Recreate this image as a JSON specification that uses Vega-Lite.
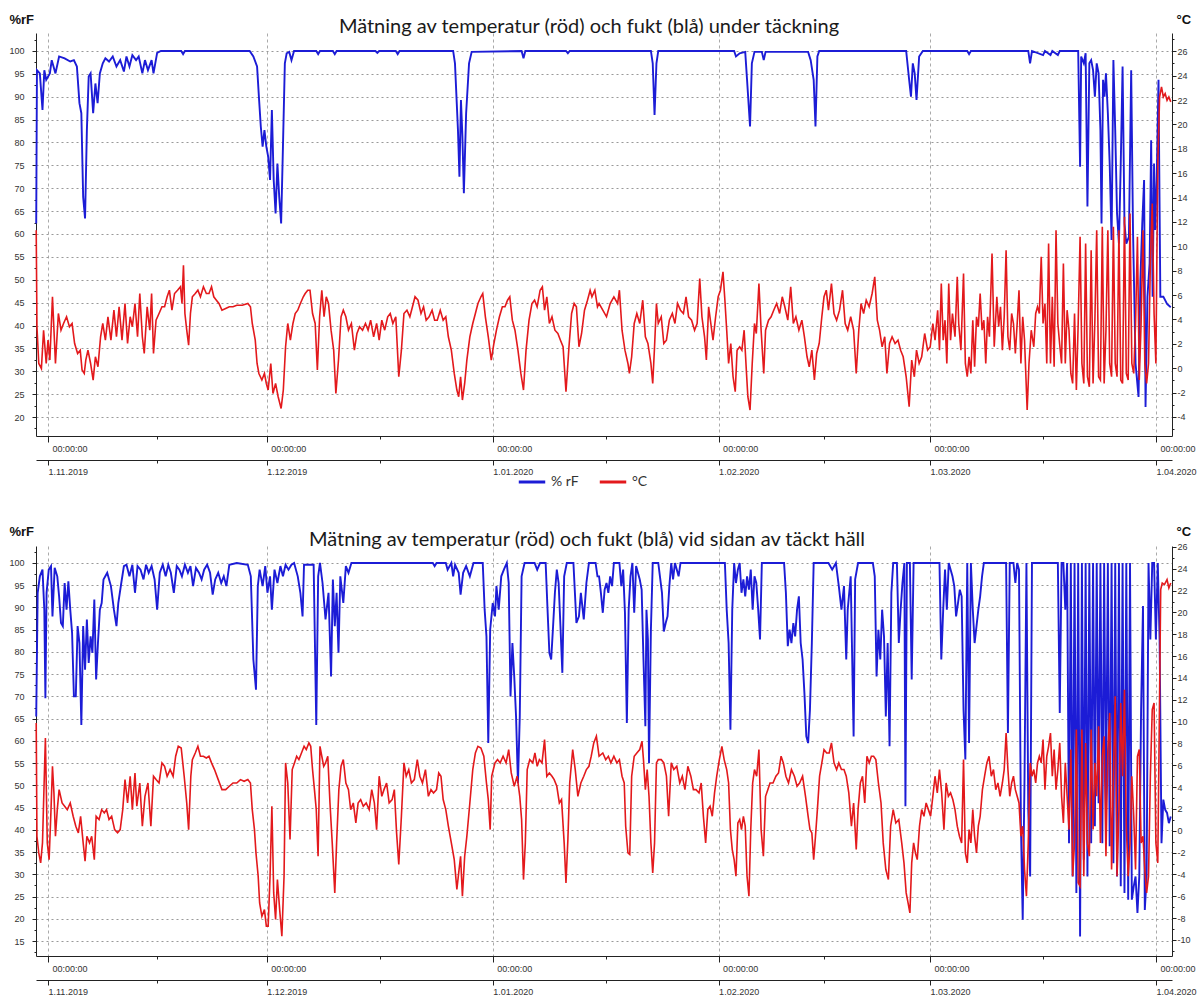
{
"$schema": "https://vega.github.io/schema/vega-lite/v6.json",
"background": "white",
"padding": {"left": 8, "top": 13, "right": 5, "bottom": 2},
"config": {
  "view": {"stroke": null},
  "axis": {"labelFont": "Liberation Sans Narrow, Liberation Sans", "labelFontSize": 9, "labelColor": "#333", "domainColor": "#222", "tickColor": "#222", "titleFont": "Liberation Sans Narrow, Liberation Sans", "titleFontSize": 13, "titleFontWeight": "bold", "titleColor": "#111", "labelFlush": false, "labelOverlap": false, "labelBound": false}
},
"spacing": 36,
"resolve": {"scale": {"color": "independent"}},
"datasets": {
"top_rf": [{"day":-1.62,"rf":62.3},{"day":-1.52,"rf":95.8},{"day":-1.12,"rf":95.1},{"day":-0.76,"rf":87.1},{"day":-0.51,"rf":95.8},{"day":-0.25,"rf":93.7},{"day":0.25,"rf":95.1},{"day":0.51,"rf":98},{"day":1.02,"rf":95.1},{"day":1.52,"rf":98.8},{"day":2.28,"rf":98.4},{"day":3.05,"rf":97.7},{"day":3.55,"rf":98},{"day":3.96,"rf":96.6},{"day":4.31,"rf":88.6},{"day":4.57,"rf":86.4},{"day":4.82,"rf":68.1},{"day":5.08,"rf":63.4},{"day":5.33,"rf":82.7},{"day":5.58,"rf":94.4},{"day":5.84,"rf":95.1},{"day":6.19,"rf":86.4},{"day":6.5,"rf":92.9},{"day":6.8,"rf":88.6},{"day":7.11,"rf":95.1},{"day":7.51,"rf":97.3},{"day":7.87,"rf":98.4},{"day":8.37,"rf":97.7},{"day":8.88,"rf":98.8},{"day":9.39,"rf":96.6},{"day":9.9,"rf":98},{"day":10.41,"rf":95.5},{"day":10.76,"rf":98.8},{"day":11.17,"rf":96.6},{"day":11.57,"rf":99.1},{"day":12.08,"rf":98},{"day":12.44,"rf":98.8},{"day":12.94,"rf":95.1},{"day":13.3,"rf":98},{"day":13.71,"rf":95.8},{"day":14.21,"rf":98},{"day":14.47,"rf":95.1},{"day":14.97,"rf":99.6},{"day":15.48,"rf":100},{"day":18.27,"rf":100},{"day":18.53,"rf":99.3},{"day":18.78,"rf":100},{"day":27.66,"rf":100},{"day":28.17,"rf":98.8},{"day":28.68,"rf":96.6},{"day":28.93,"rf":90},{"day":29.19,"rf":83.5},{"day":29.44,"rf":79.1},{"day":29.69,"rf":82.7},{"day":29.95,"rf":79.1},{"day":30.2,"rf":76.9},{"day":30.46,"rf":71.8},{"day":30.71,"rf":87.1},{"day":30.96,"rf":71.8},{"day":31.22,"rf":64.5},{"day":31.47,"rf":75.4},{"day":31.72,"rf":68.1},{"day":31.98,"rf":62.3},{"day":32.23,"rf":79.1},{"day":32.49,"rf":97.3},{"day":32.74,"rf":99.5},{"day":33.09,"rf":99.8},{"day":33.4,"rf":98},{"day":33.75,"rf":100},{"day":36.8,"rf":100},{"day":37.06,"rf":99.3},{"day":37.31,"rf":100},{"day":39.08,"rf":100},{"day":39.34,"rf":99.3},{"day":39.59,"rf":100},{"day":44.92,"rf":100},{"day":45.18,"rf":99.6},{"day":45.43,"rf":100},{"day":47.71,"rf":100},{"day":47.97,"rf":99.3},{"day":48.22,"rf":100},{"day":55.58,"rf":100},{"day":55.83,"rf":97.3},{"day":56.24,"rf":82.7},{"day":56.44,"rf":72.5},{"day":56.65,"rf":89.3},{"day":56.85,"rf":81.3},{"day":57.05,"rf":68.9},{"day":57.36,"rf":86.4},{"day":57.76,"rf":97.3},{"day":58.12,"rf":99.8},{"day":64.97,"rf":100},{"day":65.23,"rf":98.4},{"day":65.48,"rf":100},{"day":71.06,"rf":100},{"day":71.32,"rf":99.5},{"day":71.57,"rf":100},{"day":82.71,"rf":100},{"day":82.96,"rf":97.3},{"day":83.21,"rf":86},{"day":83.47,"rf":97.3},{"day":83.72,"rf":100},{"day":94.13,"rf":100},{"day":94.38,"rf":98.8},{"day":94.89,"rf":99.5},{"day":95.65,"rf":99.8},{"day":95.9,"rf":93.7},{"day":96.31,"rf":83.5},{"day":96.56,"rf":97.3},{"day":96.92,"rf":99.8},{"day":97.93,"rf":99.8},{"day":98.19,"rf":98},{"day":98.44,"rf":99.8},{"day":104.28,"rf":99.8},{"day":104.63,"rf":98},{"day":105.04,"rf":93.7},{"day":105.29,"rf":83.5},{"day":105.55,"rf":98.8},{"day":105.8,"rf":100},{"day":117.73,"rf":100},{"day":118.14,"rf":93.7},{"day":118.39,"rf":90},{"day":118.64,"rf":97.3},{"day":118.9,"rf":95.1},{"day":119.15,"rf":89.3},{"day":119.51,"rf":98.8},{"day":120.02,"rf":100},{"day":126.11,"rf":100},{"day":126.36,"rf":99.3},{"day":126.61,"rf":100},{"day":134.48,"rf":100},{"day":134.73,"rf":97.3},{"day":134.99,"rf":100},{"day":136.51,"rf":99.1},{"day":136.77,"rf":100},{"day":137.53,"rf":99.1},{"day":137.78,"rf":100},{"day":138.54,"rf":99.1},{"day":138.8,"rf":100},{"day":141.33,"rf":100},{"day":141.59,"rf":74.7},{"day":141.74,"rf":98.8},{"day":142.1,"rf":97.3},{"day":142.35,"rf":99.5},{"day":142.6,"rf":66},{"day":142.86,"rf":97.3},{"day":143.11,"rf":98},{"day":143.37,"rf":95.8},{"day":143.62,"rf":90},{"day":143.87,"rf":97.3},{"day":144.13,"rf":95.1},{"day":144.38,"rf":82.7},{"day":144.53,"rf":62.3},{"day":144.74,"rf":93.7},{"day":144.94,"rf":90},{"day":145.14,"rf":95.1},{"day":145.4,"rf":86.4},{"day":145.65,"rf":75.4},{"day":145.91,"rf":58.7},{"day":146.16,"rf":98},{"day":146.41,"rf":82.7},{"day":146.66,"rf":64.5},{"day":146.92,"rf":57.9},{"day":147.17,"rf":75.4},{"day":147.42,"rf":96.6},{"day":147.68,"rf":62.3},{"day":147.93,"rf":57.9},{"day":148.29,"rf":59.4},{"day":148.6,"rf":95.8},{"day":148.85,"rf":60.9},{"day":149.2,"rf":31.7},{"day":149.61,"rf":24.4},{"day":149.86,"rf":49.9},{"day":150.12,"rf":62.3},{"day":150.37,"rf":71.8},{"day":150.57,"rf":22.2},{"day":150.83,"rf":46.3},{"day":151.13,"rf":53.6},{"day":151.34,"rf":80.5},{"day":151.54,"rf":46.3},{"day":151.74,"rf":75.4},{"day":151.89,"rf":60.9},{"day":152.1,"rf":71.8},{"day":152.35,"rf":93.7},{"day":152.6,"rf":46.3},{"day":153.01,"rf":46.3},{"day":153.52,"rf":44.7},{"day":154.03,"rf":44}],
"top_t": [{"day":-1.62,"temp":11.32},{"day":-1.52,"temp":3.4},{"day":-1.27,"temp":0.39},{"day":-0.91,"temp":-0.02},{"day":-0.61,"temp":3.12},{"day":-0.25,"temp":0.39},{"day":0,"temp":2.3},{"day":0.25,"temp":0.67},{"day":0.61,"temp":5.86},{"day":1.02,"temp":0.39},{"day":1.42,"temp":4.49},{"day":1.78,"temp":3.12},{"day":2.13,"temp":3.67},{"day":2.54,"temp":4.22},{"day":2.94,"temp":3.4},{"day":3.3,"temp":3.67},{"day":3.65,"temp":2.03},{"day":4.06,"temp":1.21},{"day":4.42,"temp":1.48},{"day":4.67,"temp":-0.15},{"day":4.97,"temp":-0.43},{"day":5.18,"temp":0.67},{"day":5.48,"temp":1.48},{"day":5.84,"temp":0.39},{"day":6.19,"temp":-0.97},{"day":6.5,"temp":0.94},{"day":6.85,"temp":0.12},{"day":7.21,"temp":2.58},{"day":7.51,"temp":3.67},{"day":7.87,"temp":2.3},{"day":8.22,"temp":4.22},{"day":8.63,"temp":2.3},{"day":9.04,"temp":4.76},{"day":9.39,"temp":2.58},{"day":9.75,"temp":5.04},{"day":10.15,"temp":2.3},{"day":10.56,"temp":5.31},{"day":10.91,"temp":2.03},{"day":11.27,"temp":4.22},{"day":11.57,"temp":3.4},{"day":11.93,"temp":5.31},{"day":12.28,"temp":2.58},{"day":12.59,"temp":6.13},{"day":12.94,"temp":2.58},{"day":13.2,"temp":1.21},{"day":13.6,"temp":5.04},{"day":13.96,"temp":3.12},{"day":14.21,"temp":6.13},{"day":14.47,"temp":1.21},{"day":14.82,"temp":3.94},{"day":15.23,"temp":4.49},{"day":15.63,"temp":5.04},{"day":15.99,"temp":5.04},{"day":16.34,"temp":5.86},{"day":16.65,"temp":6.4},{"day":17.0,"temp":4.76},{"day":17.36,"temp":6.13},{"day":17.77,"temp":6.4},{"day":18.17,"temp":6.68},{"day":18.38,"temp":5.31},{"day":18.58,"temp":8.45},{"day":18.78,"temp":4.49},{"day":19.03,"temp":3.12},{"day":19.29,"temp":1.89},{"day":19.54,"temp":4.49},{"day":19.8,"temp":5.86},{"day":20.2,"temp":6.13},{"day":20.56,"temp":6.4},{"day":20.91,"temp":5.86},{"day":21.32,"temp":6.68},{"day":21.72,"temp":6.13},{"day":22.08,"temp":6.13},{"day":22.43,"temp":6.68},{"day":22.74,"temp":5.86},{"day":23.1,"temp":5.58},{"day":23.45,"temp":5.31},{"day":23.86,"temp":4.76},{"day":24.37,"temp":4.9},{"day":24.87,"temp":5.04},{"day":25.38,"temp":5.04},{"day":25.89,"temp":5.17},{"day":26.65,"temp":5.17},{"day":27.41,"temp":5.31},{"day":27.77,"temp":5.04},{"day":28.02,"temp":3.67},{"day":28.43,"temp":2.3},{"day":28.68,"temp":0.39},{"day":28.93,"temp":-0.43},{"day":29.34,"temp":-0.97},{"day":29.69,"temp":-0.43},{"day":29.95,"temp":-1.25},{"day":30.2,"temp":-1.79},{"day":30.56,"temp":0.39},{"day":30.86,"temp":-2.07},{"day":31.22,"temp":-1.25},{"day":31.57,"temp":-2.34},{"day":31.98,"temp":-3.3},{"day":32.28,"temp":-1.79},{"day":32.59,"temp":1.76},{"day":32.89,"temp":3.67},{"day":33.25,"temp":2.3},{"day":33.6,"temp":3.67},{"day":33.91,"temp":4.49},{"day":34.26,"temp":4.76},{"day":34.62,"temp":5.31},{"day":35.02,"temp":5.86},{"day":35.28,"temp":6.13},{"day":35.63,"temp":6.4},{"day":35.94,"temp":6.4},{"day":36.29,"temp":4.49},{"day":36.65,"temp":3.67},{"day":36.95,"temp":-0.15},{"day":37.26,"temp":4.22},{"day":37.56,"temp":6.4},{"day":37.87,"temp":4.22},{"day":38.17,"temp":5.86},{"day":38.48,"temp":5.31},{"day":38.83,"temp":3.12},{"day":39.19,"temp":1.48},{"day":39.49,"temp":-2.07},{"day":39.85,"temp":0.67},{"day":40.2,"temp":4.22},{"day":40.51,"temp":4.76},{"day":40.86,"temp":4.22},{"day":41.22,"temp":3.12},{"day":41.62,"temp":3.67},{"day":42.03,"temp":1.48},{"day":42.38,"temp":2.85},{"day":42.74,"temp":3.4},{"day":43.15,"temp":3.12},{"day":43.55,"temp":3.67},{"day":43.91,"temp":3.12},{"day":44.26,"temp":3.94},{"day":44.67,"temp":2.58},{"day":45.08,"temp":3.67},{"day":45.43,"temp":2.3},{"day":45.79,"temp":3.94},{"day":46.19,"temp":3.12},{"day":46.6,"temp":4.22},{"day":46.95,"temp":4.49},{"day":47.31,"temp":3.67},{"day":47.71,"temp":4.22},{"day":48.12,"temp":-0.7},{"day":48.48,"temp":1.48},{"day":48.83,"temp":4.49},{"day":49.24,"temp":4.76},{"day":49.64,"temp":4.22},{"day":50,"temp":5.04},{"day":50.35,"temp":5.86},{"day":50.76,"temp":5.58},{"day":51.17,"temp":4.49},{"day":51.52,"temp":5.04},{"day":51.88,"temp":3.94},{"day":52.28,"temp":4.22},{"day":52.69,"temp":4.76},{"day":53.04,"temp":3.94},{"day":53.4,"temp":3.94},{"day":53.81,"temp":4.76},{"day":54.21,"temp":3.94},{"day":54.57,"temp":4.22},{"day":54.92,"temp":2.58},{"day":55.33,"temp":1.48},{"day":55.73,"temp":-0.43},{"day":56.09,"temp":-1.79},{"day":56.34,"temp":-2.34},{"day":56.6,"temp":-0.7},{"day":56.85,"temp":-2.61},{"day":57.16,"temp":-1.25},{"day":57.46,"temp":0.67},{"day":57.87,"temp":2.58},{"day":58.27,"temp":3.67},{"day":58.63,"temp":4.49},{"day":58.98,"temp":5.31},{"day":59.39,"temp":5.86},{"day":59.64,"temp":6.13},{"day":60.0,"temp":4.22},{"day":60.4,"temp":2.58},{"day":60.81,"temp":0.67},{"day":61.17,"temp":2.03},{"day":61.52,"temp":3.12},{"day":61.93,"temp":4.22},{"day":62.33,"temp":5.04},{"day":62.69,"temp":5.04},{"day":63.04,"temp":5.58},{"day":63.35,"temp":5.86},{"day":63.7,"temp":3.94},{"day":64.06,"temp":3.12},{"day":64.47,"temp":1.48},{"day":64.87,"temp":-0.43},{"day":65.23,"temp":-1.79},{"day":65.58,"temp":1.48},{"day":65.99,"temp":3.94},{"day":66.39,"temp":5.31},{"day":66.75,"temp":5.58},{"day":67.1,"temp":5.04},{"day":67.51,"temp":6.4},{"day":67.82,"temp":6.68},{"day":68.12,"temp":4.76},{"day":68.43,"temp":5.86},{"day":68.78,"temp":3.67},{"day":69.14,"temp":4.22},{"day":69.54,"temp":3.12},{"day":69.95,"temp":2.85},{"day":70.3,"temp":2.3},{"day":70.66,"temp":1.76},{"day":71.06,"temp":-1.93},{"day":71.47,"temp":1.76},{"day":71.83,"temp":4.49},{"day":72.18,"temp":5.31},{"day":72.49,"temp":5.04},{"day":72.84,"temp":1.76},{"day":73.2,"temp":2.85},{"day":73.6,"temp":4.76},{"day":74.01,"temp":5.58},{"day":74.37,"temp":6.4},{"day":74.62,"temp":5.86},{"day":75.02,"temp":6.4},{"day":75.38,"temp":5.04},{"day":75.6,"temp":5.31},{"day":76.11,"temp":4.76},{"day":76.62,"temp":4.22},{"day":77.12,"temp":5.31},{"day":77.63,"temp":5.86},{"day":78.14,"temp":5.31},{"day":78.39,"temp":6.4},{"day":78.75,"temp":3.12},{"day":79.15,"temp":1.48},{"day":79.56,"temp":0.39},{"day":79.76,"temp":-0.43},{"day":80.07,"temp":0.94},{"day":80.42,"temp":3.67},{"day":80.78,"temp":4.49},{"day":81.18,"temp":3.67},{"day":81.59,"temp":5.58},{"day":81.95,"temp":2.58},{"day":82.3,"temp":2.03},{"day":82.71,"temp":0.39},{"day":82.96,"temp":-1.25},{"day":83.21,"temp":1.76},{"day":83.47,"temp":5.31},{"day":83.72,"temp":3.67},{"day":84.13,"temp":4.22},{"day":84.48,"temp":2.03},{"day":84.84,"temp":2.3},{"day":85.24,"temp":3.94},{"day":85.65,"temp":4.49},{"day":86.01,"temp":3.67},{"day":86.36,"temp":5.31},{"day":86.77,"temp":4.76},{"day":87.17,"temp":4.49},{"day":87.53,"temp":5.86},{"day":87.88,"temp":4.22},{"day":88.29,"temp":3.94},{"day":88.7,"temp":3.12},{"day":89.05,"temp":3.67},{"day":89.41,"temp":7.36},{"day":89.71,"temp":4.22},{"day":90.07,"temp":2.58},{"day":90.32,"temp":0.67},{"day":90.63,"temp":5.04},{"day":90.93,"temp":3.67},{"day":91.23,"temp":2.3},{"day":91.59,"temp":4.22},{"day":91.94,"temp":5.86},{"day":92.25,"temp":6.4},{"day":92.6,"temp":7.91},{"day":92.86,"temp":5.58},{"day":93.11,"temp":3.12},{"day":93.37,"temp":0.39},{"day":93.67,"temp":2.03},{"day":93.98,"temp":-0.7},{"day":94.28,"temp":-1.93},{"day":94.53,"temp":1.48},{"day":94.89,"temp":1.76},{"day":95.19,"temp":1.48},{"day":95.5,"temp":3.12},{"day":95.8,"temp":-0.15},{"day":96.01,"temp":-2.34},{"day":96.31,"temp":-3.43},{"day":96.61,"temp":0.39},{"day":96.92,"temp":3.67},{"day":97.17,"temp":2.85},{"day":97.53,"temp":6.95},{"day":97.83,"temp":3.12},{"day":98.19,"temp":-0.43},{"day":98.44,"temp":3.12},{"day":98.85,"temp":3.94},{"day":99.2,"temp":4.22},{"day":99.56,"temp":4.76},{"day":99.96,"temp":5.31},{"day":100.37,"temp":4.49},{"day":100.73,"temp":5.86},{"day":101.08,"temp":5.04},{"day":101.49,"temp":3.94},{"day":101.89,"temp":6.68},{"day":102.25,"temp":3.67},{"day":102.6,"temp":4.22},{"day":103.01,"temp":3.12},{"day":103.42,"temp":3.94},{"day":103.77,"temp":2.58},{"day":104.13,"temp":0.94},{"day":104.43,"temp":0.12},{"day":104.79,"temp":1.48},{"day":105.14,"temp":-0.97},{"day":105.45,"temp":1.21},{"day":105.8,"temp":2.03},{"day":106.16,"temp":4.22},{"day":106.46,"temp":5.86},{"day":106.77,"temp":6.4},{"day":107.07,"temp":4.76},{"day":107.48,"temp":6.95},{"day":107.83,"temp":4.49},{"day":108.19,"temp":3.94},{"day":108.59,"temp":4.76},{"day":109.0,"temp":6.4},{"day":109.36,"temp":3.67},{"day":109.71,"temp":3.12},{"day":110.12,"temp":4.22},{"day":110.52,"temp":3.12},{"day":110.88,"temp":-0.43},{"day":111.23,"temp":3.12},{"day":111.54,"temp":5.31},{"day":111.89,"temp":4.49},{"day":112.25,"temp":5.58},{"day":112.65,"temp":5.04},{"day":113.06,"temp":6.13},{"day":113.42,"temp":7.5},{"day":113.77,"temp":3.94},{"day":114.08,"temp":3.12},{"day":114.43,"temp":1.76},{"day":114.79,"temp":2.58},{"day":115.09,"temp":-0.43},{"day":115.45,"temp":2.03},{"day":115.8,"temp":2.58},{"day":116.21,"temp":2.03},{"day":116.61,"temp":2.3},{"day":116.97,"temp":1.48},{"day":117.32,"temp":0.94},{"day":117.73,"temp":-0.7},{"day":118.14,"temp":-3.16},{"day":118.49,"temp":0.67},{"day":118.85,"temp":-0.7},{"day":119.15,"temp":1.48},{"day":119.51,"temp":0.39},{"day":119.86,"temp":0.94},{"day":120.27,"temp":2.85},{"day":120.67,"temp":1.48},{"day":121.03,"temp":1.76},{"day":121.39,"temp":3.67},{"day":121.69,"temp":2.3},{"day":122.05,"temp":4.76},{"day":122.3,"temp":1.48},{"day":122.55,"temp":6.95},{"day":122.81,"temp":2.3},{"day":123.06,"temp":3.94},{"day":123.31,"temp":0.39},{"day":123.57,"temp":6.95},{"day":123.82,"temp":2.3},{"day":124.08,"temp":4.49},{"day":124.43,"temp":2.58},{"day":124.74,"temp":7.5},{"day":124.94,"temp":3.67},{"day":125.24,"temp":1.48},{"day":125.6,"temp":7.77},{"day":125.85,"temp":0.39},{"day":126.11,"temp":-0.7},{"day":126.36,"temp":0.94},{"day":126.61,"temp":-0.43},{"day":126.87,"temp":3.94},{"day":127.12,"temp":0.12},{"day":127.38,"temp":4.22},{"day":127.63,"temp":3.4},{"day":127.88,"temp":6.13},{"day":128.14,"temp":3.12},{"day":128.39,"temp":3.94},{"day":128.65,"temp":0.39},{"day":128.9,"temp":4.22},{"day":129.15,"temp":2.58},{"day":129.51,"temp":9.41},{"day":129.81,"temp":1.76},{"day":130.17,"temp":5.86},{"day":130.42,"temp":3.4},{"day":130.67,"temp":5.04},{"day":130.93,"temp":1.48},{"day":131.18,"temp":4.22},{"day":131.44,"temp":9.68},{"day":131.69,"temp":2.58},{"day":131.94,"temp":1.48},{"day":132.2,"temp":4.49},{"day":132.45,"temp":3.67},{"day":132.71,"temp":1.21},{"day":132.96,"temp":3.67},{"day":133.21,"temp":6.4},{"day":133.47,"temp":0.39},{"day":133.72,"temp":4.22},{"day":133.97,"temp":2.3},{"day":134.33,"temp":-3.43},{"day":134.58,"temp":0.39},{"day":134.89,"temp":3.12},{"day":135.24,"temp":1.76},{"day":135.5,"temp":4.49},{"day":135.75,"temp":5.04},{"day":136.0,"temp":4.49},{"day":136.26,"temp":9.14},{"day":136.51,"temp":3.67},{"day":136.77,"temp":5.31},{"day":137.02,"temp":0.39},{"day":137.27,"temp":10.23},{"day":137.53,"temp":0.39},{"day":137.78,"temp":5.86},{"day":138.03,"temp":0.12},{"day":138.29,"temp":11.32},{"day":138.54,"temp":3.67},{"day":138.8,"temp":1.89},{"day":139.05,"temp":0.39},{"day":139.3,"temp":8.59},{"day":139.56,"temp":0.39},{"day":139.81,"temp":4.76},{"day":140.07,"temp":3.12},{"day":140.32,"temp":-0.43},{"day":140.57,"temp":-1.25},{"day":140.83,"temp":4.49},{"day":141.08,"temp":-1.79},{"day":141.33,"temp":3.67},{"day":141.59,"temp":10.78},{"day":141.84,"temp":0.39},{"day":142.1,"temp":-1.25},{"day":142.35,"temp":10.23},{"day":142.6,"temp":-0.7},{"day":142.86,"temp":-1.52},{"day":143.11,"temp":9.68},{"day":143.37,"temp":-1.25},{"day":143.62,"temp":3.94},{"day":143.87,"temp":11.32},{"day":144.13,"temp":-0.7},{"day":144.38,"temp":-0.97},{"day":144.64,"temp":11.6},{"day":144.89,"temp":-1.25},{"day":145.14,"temp":3.12},{"day":145.4,"temp":11.32},{"day":145.65,"temp":0.39},{"day":145.91,"temp":-0.7},{"day":146.16,"temp":11.6},{"day":146.41,"temp":0.39},{"day":146.66,"temp":-0.7},{"day":146.92,"temp":11.32},{"day":147.17,"temp":-0.97},{"day":147.42,"temp":-1.25},{"day":147.68,"temp":12.42},{"day":147.93,"temp":-0.43},{"day":148.19,"temp":-0.97},{"day":148.44,"temp":12.69},{"day":148.69,"temp":0.39},{"day":148.95,"temp":-0.43},{"day":149.2,"temp":3.67},{"day":149.46,"temp":10.78},{"day":149.71,"temp":-0.97},{"day":149.96,"temp":3.67},{"day":150.22,"temp":11.32},{"day":150.47,"temp":0.39},{"day":150.72,"temp":-1.25},{"day":150.98,"temp":0.39},{"day":151.23,"temp":8.59},{"day":151.49,"temp":13.51},{"day":151.74,"temp":4.49},{"day":151.99,"temp":0.39},{"day":152.25,"temp":16.79},{"day":152.5,"temp":22.26},{"day":152.76,"temp":23.08},{"day":153.01,"temp":22.26},{"day":153.26,"temp":22.53},{"day":153.52,"temp":21.98},{"day":153.77,"temp":22.26},{"day":154.03,"temp":21.85}],
"bot_rf": [{"day":-1.62,"rf":65.5},{"day":-1.42,"rf":93.3},{"day":-1.12,"rf":97},{"day":-0.76,"rf":98.5},{"day":-0.51,"rf":89.5},{"day":-0.36,"rf":69.6},{"day":-0.2,"rf":93.3},{"day":0.1,"rf":98.5},{"day":0.41,"rf":99.3},{"day":0.61,"rf":88},{"day":0.91,"rf":98.9},{"day":1.27,"rf":97},{"day":1.52,"rf":92.5},{"day":1.78,"rf":86.5},{"day":2.03,"rf":85.8},{"day":2.28,"rf":95.5},{"day":2.54,"rf":89.5},{"day":2.79,"rf":95.9},{"day":3.05,"rf":89.5},{"day":3.3,"rf":84.3},{"day":3.55,"rf":70},{"day":3.81,"rf":70},{"day":4.06,"rf":85.8},{"day":4.31,"rf":82},{"day":4.57,"rf":63.6},{"day":4.82,"rf":85.8},{"day":5.08,"rf":76},{"day":5.33,"rf":87.3},{"day":5.58,"rf":77.5},{"day":5.84,"rf":83.5},{"day":6.09,"rf":79.8},{"day":6.35,"rf":91.8},{"day":6.6,"rf":73.8},{"day":6.85,"rf":82},{"day":7.11,"rf":89.5},{"day":7.36,"rf":91},{"day":7.61,"rf":96.3},{"day":8.12,"rf":97.8},{"day":8.63,"rf":94.8},{"day":9.04,"rf":89.5},{"day":9.39,"rf":85.8},{"day":9.64,"rf":91},{"day":10.05,"rf":95.5},{"day":10.41,"rf":99.3},{"day":10.76,"rf":99.6},{"day":11.17,"rf":97},{"day":11.57,"rf":99.6},{"day":11.93,"rf":93.3},{"day":12.28,"rf":99.3},{"day":12.69,"rf":98.5},{"day":13.1,"rf":96.3},{"day":13.45,"rf":99.6},{"day":13.81,"rf":97.8},{"day":14.21,"rf":99.3},{"day":14.62,"rf":96.3},{"day":14.97,"rf":89.5},{"day":15.33,"rf":97.8},{"day":15.74,"rf":99.6},{"day":16.14,"rf":97},{"day":16.5,"rf":99.6},{"day":16.85,"rf":97.8},{"day":17.26,"rf":93.3},{"day":17.66,"rf":99.3},{"day":18.02,"rf":98.5},{"day":18.37,"rf":97},{"day":18.78,"rf":99.6},{"day":19.19,"rf":97.8},{"day":19.54,"rf":99.3},{"day":19.9,"rf":94.8},{"day":20.3,"rf":98.9},{"day":20.71,"rf":97.8},{"day":21.07,"rf":96.3},{"day":21.42,"rf":98.5},{"day":21.83,"rf":99.6},{"day":22.23,"rf":97.8},{"day":22.59,"rf":92.9},{"day":22.94,"rf":96.3},{"day":23.35,"rf":97.8},{"day":23.76,"rf":95.5},{"day":24.11,"rf":97},{"day":24.47,"rf":94.8},{"day":24.87,"rf":99.6},{"day":25.89,"rf":100},{"day":27.41,"rf":99.6},{"day":27.82,"rf":97},{"day":28.17,"rf":78.3},{"day":28.53,"rf":71.5},{"day":28.78,"rf":94.8},{"day":29.03,"rf":98.5},{"day":29.44,"rf":94.8},{"day":29.8,"rf":99.3},{"day":30.1,"rf":93.3},{"day":30.46,"rf":97},{"day":30.71,"rf":89.5},{"day":31.07,"rf":98.5},{"day":31.47,"rf":95.5},{"day":31.88,"rf":99.3},{"day":32.23,"rf":97},{"day":32.59,"rf":99.6},{"day":32.99,"rf":98.5},{"day":33.4,"rf":99.6},{"day":33.76,"rf":100},{"day":34.26,"rf":97},{"day":34.62,"rf":93.3},{"day":34.92,"rf":88},{"day":35.12,"rf":99.6},{"day":36.44,"rf":99.6},{"day":36.8,"rf":63.6},{"day":37.06,"rf":97},{"day":37.31,"rf":100},{"day":37.66,"rf":95.5},{"day":38.07,"rf":87.3},{"day":38.48,"rf":93.3},{"day":38.83,"rf":74.5},{"day":39.08,"rf":96.3},{"day":39.34,"rf":85.8},{"day":39.59,"rf":93.3},{"day":39.85,"rf":79.8},{"day":40.1,"rf":97},{"day":40.51,"rf":91},{"day":40.86,"rf":99.3},{"day":41.22,"rf":97.8},{"day":41.62,"rf":100},{"day":52.79,"rf":100},{"day":53.04,"rf":99.3},{"day":53.3,"rf":100},{"day":54.57,"rf":100},{"day":54.82,"rf":98.5},{"day":55.33,"rf":100},{"day":55.58,"rf":97},{"day":55.84,"rf":99.6},{"day":56.34,"rf":97.8},{"day":56.6,"rf":92.9},{"day":56.95,"rf":97.8},{"day":57.36,"rf":99.3},{"day":57.87,"rf":97},{"day":58.37,"rf":100},{"day":59.64,"rf":100},{"day":59.9,"rf":89.5},{"day":60.15,"rf":83.5},{"day":60.4,"rf":59.5},{"day":60.66,"rf":85},{"day":61.01,"rf":91},{"day":61.32,"rf":88},{"day":61.52,"rf":94.8},{"day":61.83,"rf":89.5},{"day":62.18,"rf":97},{"day":62.54,"rf":98.5},{"day":62.94,"rf":100},{"day":63.2,"rf":95.5},{"day":63.45,"rf":70},{"day":63.71,"rf":82},{"day":63.96,"rf":74.5},{"day":64.21,"rf":65.5},{"day":64.47,"rf":50.5},{"day":64.72,"rf":65.5},{"day":64.97,"rf":97},{"day":65.38,"rf":100},{"day":66.75,"rf":100},{"day":67.11,"rf":98.5},{"day":67.51,"rf":100},{"day":68.27,"rf":100},{"day":68.53,"rf":89.5},{"day":68.78,"rf":79.8},{"day":69.03,"rf":78.3},{"day":69.29,"rf":85.8},{"day":69.54,"rf":93.3},{"day":69.8,"rf":98.5},{"day":70.05,"rf":95.5},{"day":70.3,"rf":85.8},{"day":70.56,"rf":75.3},{"day":70.81,"rf":97},{"day":71.17,"rf":100},{"day":72.08,"rf":100},{"day":72.49,"rf":86.5},{"day":72.84,"rf":88},{"day":73.1,"rf":93.3},{"day":73.5,"rf":87.3},{"day":73.86,"rf":95.5},{"day":74.21,"rf":100},{"day":75.12,"rf":100},{"day":75.38,"rf":97},{"day":75.6,"rf":97},{"day":75.85,"rf":93.3},{"day":76.11,"rf":88.8},{"day":76.36,"rf":94},{"day":76.62,"rf":95.5},{"day":76.87,"rf":93.3},{"day":77.12,"rf":97},{"day":77.38,"rf":94.8},{"day":77.63,"rf":100},{"day":78.39,"rf":100},{"day":78.65,"rf":94.8},{"day":78.9,"rf":98.5},{"day":79.15,"rf":88.8},{"day":79.41,"rf":64},{"day":79.66,"rf":89.5},{"day":79.91,"rf":97},{"day":80.17,"rf":100},{"day":80.42,"rf":88.8},{"day":80.68,"rf":99.3},{"day":80.93,"rf":97.8},{"day":81.18,"rf":96.3},{"day":81.44,"rf":94},{"day":81.69,"rf":78.3},{"day":81.95,"rf":63.3},{"day":82.1,"rf":89.5},{"day":82.3,"rf":82.8},{"day":82.45,"rf":55},{"day":82.71,"rf":85},{"day":82.96,"rf":100},{"day":83.72,"rf":100},{"day":84.23,"rf":93.3},{"day":84.48,"rf":84.6},{"day":84.74,"rf":86.5},{"day":84.99,"rf":88},{"day":85.24,"rf":94.8},{"day":85.5,"rf":100},{"day":85.75,"rf":96.3},{"day":86.01,"rf":100},{"day":86.51,"rf":97},{"day":86.77,"rf":100},{"day":92.86,"rf":100},{"day":93.11,"rf":89.5},{"day":93.37,"rf":82},{"day":93.62,"rf":62.5},{"day":93.87,"rf":89.5},{"day":94.13,"rf":100},{"day":94.38,"rf":95.5},{"day":94.64,"rf":98.5},{"day":94.89,"rf":100},{"day":95.14,"rf":93.3},{"day":95.4,"rf":96.3},{"day":95.65,"rf":92.5},{"day":95.9,"rf":97},{"day":96.16,"rf":94},{"day":96.41,"rf":98.5},{"day":96.67,"rf":89.5},{"day":96.92,"rf":97},{"day":97.17,"rf":95.5},{"day":97.43,"rf":89.5},{"day":97.68,"rf":82.8},{"day":97.93,"rf":100},{"day":100.98,"rf":100},{"day":101.23,"rf":93.3},{"day":101.49,"rf":81.3},{"day":101.74,"rf":85},{"day":101.99,"rf":82},{"day":102.25,"rf":86.5},{"day":102.5,"rf":83.5},{"day":102.76,"rf":89.5},{"day":103.01,"rf":92.5},{"day":103.26,"rf":82},{"day":103.52,"rf":78.3},{"day":103.77,"rf":70.8},{"day":104.03,"rf":61},{"day":104.28,"rf":59.5},{"day":104.53,"rf":67},{"day":104.79,"rf":82},{"day":105.04,"rf":100},{"day":107.07,"rf":100},{"day":107.58,"rf":98.5},{"day":108.09,"rf":100},{"day":108.49,"rf":94.8},{"day":108.85,"rf":89.5},{"day":109.2,"rf":94.8},{"day":109.51,"rf":78.3},{"day":109.71,"rf":89.5},{"day":110.12,"rf":97},{"day":110.52,"rf":61},{"day":110.73,"rf":96.3},{"day":111.13,"rf":100},{"day":113.16,"rf":100},{"day":113.42,"rf":97},{"day":113.67,"rf":74.5},{"day":113.92,"rf":85},{"day":114.18,"rf":78.3},{"day":114.43,"rf":89.5},{"day":114.69,"rf":83.5},{"day":114.94,"rf":65.5},{"day":115.19,"rf":82},{"day":115.45,"rf":58.8},{"day":115.7,"rf":93.3},{"day":115.95,"rf":100},{"day":116.46,"rf":100},{"day":116.72,"rf":82},{"day":116.97,"rf":89.5},{"day":117.22,"rf":95.5},{"day":117.48,"rf":100},{"day":117.63,"rf":45.3},{"day":117.83,"rf":100},{"day":118.24,"rf":100},{"day":118.49,"rf":73.8},{"day":118.75,"rf":100},{"day":122.3,"rf":100},{"day":122.55,"rf":78.3},{"day":122.81,"rf":89.5},{"day":123.06,"rf":98.5},{"day":123.31,"rf":89.5},{"day":123.57,"rf":100},{"day":124.08,"rf":97},{"day":124.33,"rf":94.8},{"day":124.58,"rf":88},{"day":124.84,"rf":91},{"day":125.09,"rf":94},{"day":125.34,"rf":92.5},{"day":125.6,"rf":67},{"day":125.85,"rf":55.8},{"day":126.11,"rf":100},{"day":126.36,"rf":59.5},{"day":126.61,"rf":100},{"day":126.87,"rf":89.5},{"day":127.12,"rf":82},{"day":127.38,"rf":85.8},{"day":127.63,"rf":89.5},{"day":127.88,"rf":92.5},{"day":128.14,"rf":97},{"day":128.39,"rf":100},{"day":131.44,"rf":100},{"day":131.69,"rf":61.8},{"day":131.94,"rf":100},{"day":132.45,"rf":100},{"day":132.71,"rf":95.5},{"day":132.96,"rf":100},{"day":133.21,"rf":98.5},{"day":133.47,"rf":41.5},{"day":133.72,"rf":19.8},{"day":133.97,"rf":52},{"day":134.23,"rf":100},{"day":134.48,"rf":44.5},{"day":134.74,"rf":29.5},{"day":134.99,"rf":100},{"day":138.54,"rf":100},{"day":138.8,"rf":66.3},{"day":139.05,"rf":100},{"day":139.3,"rf":100},{"day":139.56,"rf":89.5},{"day":139.81,"rf":100},{"day":140.07,"rf":37},{"day":140.32,"rf":100},{"day":140.57,"rf":29.5},{"day":140.83,"rf":100},{"day":141.08,"rf":25.8},{"day":141.33,"rf":100},{"day":141.59,"rf":16},{"day":141.84,"rf":100},{"day":142.1,"rf":33.3},{"day":142.35,"rf":100},{"day":142.6,"rf":29.5},{"day":142.86,"rf":100},{"day":143.11,"rf":37},{"day":143.37,"rf":100},{"day":143.62,"rf":40.8},{"day":143.87,"rf":100},{"day":144.13,"rf":46},{"day":144.38,"rf":100},{"day":144.64,"rf":37},{"day":144.89,"rf":100},{"day":145.14,"rf":44.5},{"day":145.4,"rf":100},{"day":145.65,"rf":36.3},{"day":145.91,"rf":100},{"day":146.16,"rf":32.5},{"day":146.41,"rf":100},{"day":146.66,"rf":29.5},{"day":146.92,"rf":100},{"day":147.17,"rf":27.3},{"day":147.42,"rf":100},{"day":147.68,"rf":25.8},{"day":147.93,"rf":100},{"day":148.19,"rf":24.3},{"day":148.44,"rf":100},{"day":148.69,"rf":24.3},{"day":148.95,"rf":27.3},{"day":149.2,"rf":29.5},{"day":149.46,"rf":21.3},{"day":149.71,"rf":29.5},{"day":149.96,"rf":67},{"day":150.22,"rf":90.3},{"day":150.47,"rf":22},{"day":150.72,"rf":29.5},{"day":150.98,"rf":100},{"day":151.23,"rf":82.8},{"day":151.49,"rf":100},{"day":151.74,"rf":100},{"day":151.99,"rf":82.8},{"day":152.25,"rf":100},{"day":152.5,"rf":82.8},{"day":152.76,"rf":37},{"day":153.01,"rf":46.8},{"day":153.27,"rf":44.5},{"day":153.52,"rf":43.8},{"day":153.77,"rf":41.5},{"day":154.03,"rf":43}],
"bot_t": [{"day":-1.62,"temp":9.88},{"day":-1.52,"temp":-0.5},{"day":-1.27,"temp":-2.03},{"day":-1.01,"temp":-2.94},{"day":-0.76,"temp":-1.11},{"day":-0.51,"temp":5},{"day":-0.36,"temp":8.51},{"day":-0.1,"temp":-1.11},{"day":0.15,"temp":-2.64},{"day":0.41,"temp":1.94},{"day":0.61,"temp":5.91},{"day":0.81,"temp":3.47},{"day":1.02,"temp":-0.5},{"day":1.27,"temp":1.94},{"day":1.52,"temp":3.77},{"day":1.93,"temp":2.55},{"day":2.28,"temp":2.25},{"day":2.64,"temp":1.94},{"day":3.05,"temp":2.55},{"day":3.45,"temp":1.33},{"day":3.81,"temp":0.42},{"day":4.16,"temp":-0.19},{"day":4.47,"temp":1.33},{"day":4.82,"temp":-1.11},{"day":5.08,"temp":-2.79},{"day":5.33,"temp":-0.5},{"day":5.69,"temp":-1.11},{"day":5.99,"temp":-0.5},{"day":6.35,"temp":-2.64},{"day":6.6,"temp":1.33},{"day":7.0,"temp":1.03},{"day":7.36,"temp":1.94},{"day":7.72,"temp":1.64},{"day":8.02,"temp":1.94},{"day":8.37,"temp":1.03},{"day":8.73,"temp":1.33},{"day":9.14,"temp":0.11},{"day":9.54,"temp":-0.19},{"day":9.9,"temp":0.11},{"day":10.25,"temp":1.94},{"day":10.56,"temp":4.69},{"day":10.91,"temp":2.55},{"day":11.27,"temp":5},{"day":11.57,"temp":1.94},{"day":11.93,"temp":5.3},{"day":12.18,"temp":2.25},{"day":12.59,"temp":4.38},{"day":12.94,"temp":0.42},{"day":13.3,"temp":3.16},{"day":13.71,"temp":4.38},{"day":14.11,"temp":0.42},{"day":14.47,"temp":5},{"day":14.82,"temp":4.69},{"day":15.23,"temp":4.38},{"day":15.63,"temp":6.22},{"day":15.99,"temp":5.91},{"day":16.34,"temp":5},{"day":16.75,"temp":5.61},{"day":17.16,"temp":5},{"day":17.51,"temp":6.83},{"day":17.87,"temp":7.74},{"day":18.27,"temp":7.59},{"day":18.68,"temp":5},{"day":19.03,"temp":2.55},{"day":19.29,"temp":0.11},{"day":19.59,"temp":5},{"day":19.8,"temp":6.52},{"day":20.2,"temp":7.13},{"day":20.56,"temp":7.74},{"day":20.91,"temp":6.83},{"day":21.32,"temp":6.83},{"day":21.72,"temp":6.67},{"day":22.08,"temp":6.83},{"day":22.43,"temp":6.22},{"day":22.84,"temp":5.61},{"day":23.35,"temp":4.69},{"day":23.86,"temp":3.77},{"day":24.37,"temp":3.77},{"day":24.87,"temp":4.08},{"day":25.38,"temp":4.38},{"day":25.89,"temp":4.38},{"day":26.4,"temp":4.69},{"day":26.9,"temp":4.53},{"day":27.41,"temp":4.69},{"day":27.77,"temp":4.38},{"day":28.02,"temp":1.94},{"day":28.32,"temp":0.11},{"day":28.53,"temp":-2.03},{"day":28.83,"temp":-4.16},{"day":29.03,"temp":-6.61},{"day":29.34,"temp":-7.83},{"day":29.69,"temp":-7.22},{"day":29.95,"temp":-8.74},{"day":30.2,"temp":-8.74},{"day":30.46,"temp":-4.16},{"day":30.71,"temp":2.25},{"day":30.96,"temp":-5.69},{"day":31.22,"temp":-8.13},{"day":31.47,"temp":-4.47},{"day":31.78,"temp":-7.22},{"day":32.08,"temp":-9.66},{"day":32.38,"temp":-4.16},{"day":32.59,"temp":6.22},{"day":32.89,"temp":4.38},{"day":33.2,"temp":-0.8},{"day":33.5,"temp":5.61},{"day":33.81,"temp":6.22},{"day":34.11,"temp":6.83},{"day":34.42,"temp":6.52},{"day":34.77,"temp":7.13},{"day":35.13,"temp":7.74},{"day":35.43,"temp":7.44},{"day":35.79,"temp":8.05},{"day":36.04,"temp":7.74},{"day":36.29,"temp":5.61},{"day":36.55,"temp":3.77},{"day":36.8,"temp":1.94},{"day":37.05,"temp":-2.33},{"day":37.31,"temp":7.74},{"day":37.56,"temp":6.83},{"day":37.82,"temp":5.91},{"day":38.07,"temp":6.22},{"day":38.38,"temp":6.83},{"day":38.68,"temp":2.55},{"day":38.99,"temp":-1.11},{"day":39.34,"temp":-5.69},{"day":39.59,"temp":-1.11},{"day":39.9,"temp":3.77},{"day":40.2,"temp":5.91},{"day":40.51,"temp":6.52},{"day":40.86,"temp":4.38},{"day":41.22,"temp":3.77},{"day":41.52,"temp":1.94},{"day":41.88,"temp":2.55},{"day":42.23,"temp":0.72},{"day":42.54,"temp":2.55},{"day":42.89,"temp":2.86},{"day":43.25,"temp":2.25},{"day":43.65,"temp":2.55},{"day":44.06,"temp":1.94},{"day":44.41,"temp":3.77},{"day":44.77,"temp":2.55},{"day":45.08,"temp":0.11},{"day":45.43,"temp":5},{"day":45.79,"temp":3.16},{"day":46.09,"temp":3.77},{"day":46.45,"temp":4.38},{"day":46.8,"temp":2.55},{"day":47.21,"temp":2.86},{"day":47.51,"temp":3.77},{"day":47.82,"temp":-0.19},{"day":48.12,"temp":-3.09},{"day":48.48,"temp":1.33},{"day":48.83,"temp":6.22},{"day":49.14,"temp":5},{"day":49.49,"temp":5.61},{"day":49.85,"temp":4.38},{"day":50.25,"temp":4.69},{"day":50.66,"temp":6.52},{"day":51.01,"temp":5},{"day":51.37,"temp":4.38},{"day":51.78,"temp":5.61},{"day":52.18,"temp":3.16},{"day":52.54,"temp":3.77},{"day":52.89,"temp":3.47},{"day":53.3,"temp":3.77},{"day":53.6,"temp":5.3},{"day":53.91,"temp":5},{"day":54.21,"temp":2.86},{"day":54.57,"temp":1.94},{"day":54.92,"temp":0.42},{"day":55.33,"temp":-1.11},{"day":55.73,"temp":-2.64},{"day":56.09,"temp":-5.38},{"day":56.34,"temp":-3.86},{"day":56.6,"temp":-2.33},{"day":56.85,"temp":-6},{"day":57.16,"temp":-2.33},{"day":57.46,"temp":-0.5},{"day":57.87,"temp":2.55},{"day":58.27,"temp":5.61},{"day":58.63,"temp":7.13},{"day":58.98,"temp":7.74},{"day":59.39,"temp":7.59},{"day":59.79,"temp":6.83},{"day":60.15,"temp":4.38},{"day":60.4,"temp":2.86},{"day":60.66,"temp":0.11},{"day":60.87,"temp":5},{"day":61.32,"temp":6.22},{"day":61.67,"temp":6.52},{"day":62.03,"temp":6.22},{"day":62.43,"temp":6.83},{"day":62.84,"temp":6.22},{"day":63.2,"temp":7.44},{"day":63.55,"temp":5.3},{"day":63.96,"temp":4.08},{"day":64.36,"temp":5},{"day":64.72,"temp":3.16},{"day":64.97,"temp":1.03},{"day":65.23,"temp":-4.47},{"day":65.48,"temp":-1.11},{"day":65.74,"temp":5.61},{"day":66.09,"temp":6.52},{"day":66.5,"temp":6.22},{"day":66.8,"temp":7.13},{"day":67.11,"temp":5.91},{"day":67.41,"temp":6.52},{"day":67.77,"temp":6.22},{"day":68.12,"temp":8.35},{"day":68.43,"temp":5},{"day":68.78,"temp":5.3},{"day":69.14,"temp":5},{"day":69.44,"temp":4.69},{"day":69.8,"temp":4.08},{"day":70.15,"temp":2.55},{"day":70.45,"temp":2.86},{"day":70.81,"temp":-1.11},{"day":71.06,"temp":-4.77},{"day":71.32,"temp":-0.8},{"day":71.57,"temp":4.38},{"day":71.98,"temp":7.44},{"day":72.33,"temp":5.61},{"day":72.69,"temp":3.16},{"day":73.1,"temp":4.38},{"day":73.5,"temp":5},{"day":73.86,"temp":5.61},{"day":74.21,"temp":5.91},{"day":74.52,"temp":6.83},{"day":74.87,"temp":8.05},{"day":75.23,"temp":8.66},{"day":75.6,"temp":6.83},{"day":76.11,"temp":7.13},{"day":76.51,"temp":6.52},{"day":76.87,"temp":6.83},{"day":77.22,"temp":6.22},{"day":77.63,"temp":6.83},{"day":78.04,"temp":6.22},{"day":78.39,"temp":6.52},{"day":78.75,"temp":5},{"day":79.05,"temp":4.38},{"day":79.25,"temp":0.42},{"day":79.56,"temp":-2.03},{"day":79.81,"temp":-2.18},{"day":80.07,"temp":5},{"day":80.42,"temp":6.83},{"day":80.78,"temp":7.13},{"day":81.18,"temp":7.44},{"day":81.49,"temp":8.2},{"day":81.69,"temp":6.52},{"day":81.95,"temp":3.77},{"day":82.2,"temp":5.61},{"day":82.45,"temp":3.16},{"day":82.71,"temp":-1.11},{"day":82.96,"temp":-3.86},{"day":83.21,"temp":-1.11},{"day":83.47,"temp":6.22},{"day":83.72,"temp":6.52},{"day":84.13,"temp":6.52},{"day":84.48,"temp":6.22},{"day":84.84,"temp":5},{"day":85.14,"temp":1.33},{"day":85.5,"temp":6.22},{"day":85.85,"temp":5.61},{"day":86.26,"temp":5.91},{"day":86.67,"temp":4.38},{"day":87.02,"temp":5},{"day":87.38,"temp":3.77},{"day":87.78,"temp":5.91},{"day":88.19,"temp":5},{"day":88.54,"temp":3.77},{"day":88.9,"temp":3.77},{"day":89.31,"temp":3.47},{"day":89.61,"temp":4.38},{"day":89.91,"temp":1.33},{"day":90.22,"temp":-1.11},{"day":90.52,"temp":1.94},{"day":90.83,"temp":2.25},{"day":91.13,"temp":1.33},{"day":91.44,"temp":3.47},{"day":91.74,"temp":5},{"day":92.1,"temp":6.52},{"day":92.45,"temp":7.74},{"day":92.76,"temp":6.52},{"day":93.11,"temp":5.61},{"day":93.37,"temp":4.38},{"day":93.62,"temp":0.11},{"day":93.87,"temp":-1.72},{"day":94.13,"temp":-2.64},{"day":94.38,"temp":-4.16},{"day":94.64,"temp":0.72},{"day":94.89,"temp":1.03},{"day":95.14,"temp":0.11},{"day":95.4,"temp":1.33},{"day":95.65,"temp":0.42},{"day":95.9,"temp":-4.16},{"day":96.16,"temp":-6},{"day":96.41,"temp":0.11},{"day":96.67,"temp":4.38},{"day":96.92,"temp":5.61},{"day":97.22,"temp":5},{"day":97.53,"temp":7.44},{"day":97.83,"temp":0.11},{"day":98.14,"temp":-2.33},{"day":98.44,"temp":3.16},{"day":98.75,"temp":3.77},{"day":99.05,"temp":4.38},{"day":99.46,"temp":4.38},{"day":99.86,"temp":5},{"day":100.22,"temp":5.3},{"day":100.57,"temp":6.83},{"day":100.88,"temp":6.22},{"day":101.23,"temp":5},{"day":101.59,"temp":4.38},{"day":101.99,"temp":5.61},{"day":102.4,"temp":5},{"day":102.76,"temp":4.08},{"day":103.11,"temp":4.38},{"day":103.52,"temp":5},{"day":103.92,"temp":3.16},{"day":104.28,"temp":1.33},{"day":104.53,"temp":0.11},{"day":104.79,"temp":-0.19},{"day":105.04,"temp":-2.64},{"day":105.29,"temp":-0.5},{"day":105.55,"temp":1.94},{"day":105.85,"temp":5},{"day":106.16,"temp":6.22},{"day":106.46,"temp":7.44},{"day":106.82,"temp":7.13},{"day":107.17,"temp":7.13},{"day":107.48,"temp":8.05},{"day":107.83,"temp":6.22},{"day":108.19,"temp":5.61},{"day":108.49,"temp":6.22},{"day":108.85,"temp":5.61},{"day":109.2,"temp":5.61},{"day":109.51,"temp":5},{"day":109.86,"temp":3.47},{"day":110.22,"temp":0.42},{"day":110.52,"temp":2.55},{"day":110.88,"temp":-1.72},{"day":111.13,"temp":1.94},{"day":111.44,"temp":4.38},{"day":111.74,"temp":5},{"day":112.05,"temp":2.55},{"day":112.35,"temp":6.83},{"day":112.66,"temp":6.22},{"day":112.96,"temp":6.83},{"day":113.26,"temp":6.83},{"day":113.57,"temp":6.52},{"day":113.92,"temp":4.38},{"day":114.28,"temp":2.55},{"day":114.58,"temp":-1.11},{"day":114.94,"temp":-3.55},{"day":115.29,"temp":-4.47},{"day":115.6,"temp":0.42},{"day":115.95,"temp":1.94},{"day":116.31,"temp":0.72},{"day":116.72,"temp":1.03},{"day":117.12,"temp":-1.11},{"day":117.43,"temp":-2.94},{"day":117.73,"temp":-5.69},{"day":117.99,"temp":-6.61},{"day":118.24,"temp":-7.52},{"day":118.49,"temp":-2.94},{"day":118.75,"temp":-1.11},{"day":119.0,"temp":-2.03},{"day":119.25,"temp":-2.64},{"day":119.56,"temp":0.42},{"day":119.86,"temp":1.94},{"day":120.17,"temp":1.33},{"day":120.47,"temp":2.55},{"day":120.78,"temp":1.94},{"day":121.08,"temp":1.33},{"day":121.39,"temp":3.16},{"day":121.69,"temp":5},{"day":122.0,"temp":3.47},{"day":122.3,"temp":5.61},{"day":122.6,"temp":3.47},{"day":122.91,"temp":0.11},{"day":123.21,"temp":4.38},{"day":123.52,"temp":3.16},{"day":123.82,"temp":3.47},{"day":124.13,"temp":2.86},{"day":124.43,"temp":1.94},{"day":124.74,"temp":0.42},{"day":125.04,"temp":-0.5},{"day":125.34,"temp":-1.11},{"day":125.6,"temp":6.52},{"day":125.85,"temp":-2.03},{"day":126.11,"temp":-2.94},{"day":126.36,"temp":0.11},{"day":126.61,"temp":-1.11},{"day":126.87,"temp":1.94},{"day":127.12,"temp":-0.5},{"day":127.38,"temp":-2.03},{"day":127.63,"temp":0.42},{"day":127.88,"temp":1.33},{"day":128.19,"temp":3.77},{"day":128.49,"temp":5},{"day":128.8,"temp":6.22},{"day":129.1,"temp":6.83},{"day":129.41,"temp":5},{"day":129.71,"temp":5.61},{"day":130.02,"temp":3.77},{"day":130.32,"temp":4.38},{"day":130.62,"temp":3.16},{"day":130.93,"temp":4.38},{"day":131.18,"temp":5.61},{"day":131.44,"temp":8.96},{"day":131.69,"temp":5.61},{"day":131.94,"temp":3.16},{"day":132.2,"temp":4.38},{"day":132.45,"temp":5},{"day":132.71,"temp":3.77},{"day":132.96,"temp":3.16},{"day":133.21,"temp":2.55},{"day":133.47,"temp":-0.5},{"day":133.72,"temp":0.42},{"day":133.97,"temp":-3.55},{"day":134.23,"temp":-6},{"day":134.48,"temp":-1.11},{"day":134.74,"temp":6.22},{"day":134.99,"temp":5},{"day":135.24,"temp":5.61},{"day":135.5,"temp":4.38},{"day":135.75,"temp":6.22},{"day":136.0,"temp":6.83},{"day":136.26,"temp":6.22},{"day":136.51,"temp":8.35},{"day":136.77,"temp":3.77},{"day":137.02,"temp":6.83},{"day":137.27,"temp":7.74},{"day":137.53,"temp":8.96},{"day":137.78,"temp":5},{"day":138.03,"temp":7.44},{"day":138.29,"temp":3.77},{"day":138.54,"temp":5.61},{"day":138.8,"temp":8.05},{"day":139.05,"temp":3.16},{"day":139.3,"temp":0.72},{"day":139.56,"temp":6.22},{"day":139.81,"temp":3.16},{"day":140.07,"temp":0.11},{"day":140.32,"temp":7.44},{"day":140.57,"temp":-4.16},{"day":140.83,"temp":-1.11},{"day":141.08,"temp":9.27},{"day":141.33,"temp":-4.77},{"day":141.59,"temp":-5.08},{"day":141.84,"temp":9.27},{"day":142.1,"temp":-4.16},{"day":142.35,"temp":8.05},{"day":142.6,"temp":-1.11},{"day":142.86,"temp":-2.33},{"day":143.11,"temp":9.27},{"day":143.37,"temp":0.11},{"day":143.62,"temp":6.22},{"day":143.87,"temp":3.16},{"day":144.13,"temp":9.57},{"day":144.38,"temp":-1.11},{"day":144.64,"temp":6.83},{"day":144.89,"temp":8.66},{"day":145.14,"temp":-2.33},{"day":145.4,"temp":7.44},{"day":145.65,"temp":10.8},{"day":145.91,"temp":-3.55},{"day":146.16,"temp":5},{"day":146.41,"temp":12.32},{"day":146.66,"temp":-4.16},{"day":146.92,"temp":1.94},{"day":147.17,"temp":11.71},{"day":147.42,"temp":5},{"day":147.68,"temp":12.93},{"day":147.93,"temp":0.42},{"day":148.19,"temp":-4.16},{"day":148.44,"temp":-1.11},{"day":148.69,"temp":5},{"day":148.95,"temp":1.33},{"day":149.2,"temp":-3.55},{"day":149.46,"temp":6.83},{"day":149.71,"temp":7.44},{"day":149.96,"temp":-1.11},{"day":150.22,"temp":-0.5},{"day":150.47,"temp":-3.55},{"day":150.72,"temp":-5.69},{"day":150.98,"temp":-4.16},{"day":151.23,"temp":5},{"day":151.49,"temp":11.1},{"day":151.74,"temp":11.71},{"day":151.99,"temp":-1.11},{"day":152.25,"temp":-2.94},{"day":152.5,"temp":12.63},{"day":152.65,"temp":22.09},{"day":152.86,"temp":22.7},{"day":153.16,"temp":22.55},{"day":153.52,"temp":23.01},{"day":153.77,"temp":22.24},{"day":154.03,"temp":22.7}]
},
"vconcat": [
{
  "width": 1136, "height": 403,
  "title": {"text": "Mätning av temperatur (röd) och fukt (blå) under täckning", "font": "Lato", "fontSize": 20, "fontWeight": "normal", "color": "#1a1a1a", "frame": "group", "anchor": "middle", "baseline": "alphabetic", "offset": -40, "dx": -15},
  "layer": [
    {
      "data": {"name": "top_rf"},
      "mark": {"type": "line", "strokeWidth": 1.9},
      "encoding": {
        "x": {"field": "day", "type": "quantitative", "scale": {"domain": [-1.65, 154.2], "nice": false, "zero": false},
          "axis": {"orient": "bottom", "title": null, "values": [0,15,30,45.5,61,76.5,92,106.5,121,136.5,152], "labelExpr": "indexof([0,30,61,92,121,152], datum.value) >= 0 ? '00:00:00' : ''", "labelAlign": "left", "labelOffset": 4, "labelPadding": 2, "labelBaseline": "top", "tickSize": {"condition": {"test": "indexof([0,30,61,92,121,152], datum.value) >= 0", "value": 6}, "value": 3}, "grid": true, "gridColor": "#aaa", "gridDash": [3,3], "gridOpacity": {"condition": {"test": "indexof([0,30,61,92,121,152], datum.value) >= 0", "value": 1}, "value": 0}}},
        "y": {"field": "rf", "type": "quantitative", "scale": {"domain": [15.85, 103.93], "nice": false, "zero": false},
          "axis": {"orient": "left", "values": [17.5,20,22.5,25,27.5,30,32.5,35,37.5,40,42.5,45,47.5,50,52.5,55,57.5,60,62.5,65,67.5,70,72.5,75,77.5,80,82.5,85,87.5,90,92.5,95,97.5,100,102.5], "labelExpr": "datum.value % 5 == 0 ? '' + datum.value : ''", "tickSize": {"condition": {"test": "datum.value % 5 == 0", "value": 4}, "value": 2}, "labelPadding": 8, "grid": true, "gridColor": "#999", "gridDash": [2,3], "gridOpacity": {"condition": {"test": "datum.value % 5 == 0", "value": 1}, "value": 0}, "title": "%rF", "titleAngle": 0, "titleX": -27, "titleY": -10, "titleAlign": "left", "titleBaseline": "alphabetic"}},
        "color": {"datum": "% rF", "type": "nominal", "scale": {"domain": ["% rF", "°C"], "range": ["#1c1cd6", "#e3191c"]},
          "legend": {"orient": "none", "legendX": 481, "legendY": 434, "direction": "horizontal", "title": null, "symbolType": "stroke", "symbolStrokeWidth": 3, "symbolSize": 700, "labelFont": "Lato", "labelFontSize": 14, "labelColor": "#333", "columnPadding": 14}}
      }
    },
    {
      "data": {"name": "top_t"},
      "mark": {"type": "line", "strokeWidth": 1.6},
      "encoding": {
        "x": {"field": "day", "type": "quantitative", "scale": {"domain": [-1.65, 154.2], "nice": false, "zero": false},
          "axis": {"orient": "bottom", "offset": 24, "title": null, "grid": false, "values": [0,15,30,45.5,61,76.5,92,106.5,121,136.5,152], "labelExpr": "datum.value==0?'1.11.2019':datum.value==30?'1.12.2019':datum.value==61?'1.01.2020':datum.value==92?'1.02.2020':datum.value==121?'1.03.2020':datum.value==152?'1.04.2020':''", "labelAlign": "left", "labelOffset": 0, "labelPadding": 2, "labelBaseline": "top", "tickSize": {"condition": {"test": "indexof([0,30,61,92,121,152], datum.value) >= 0", "value": 5}, "value": 3}}},
        "y": {"field": "temp", "type": "quantitative", "scale": {"domain": [-5.56, 27.5], "nice": false, "zero": false},
          "axis": {"orient": "right", "values": [-5,-4,-3,-2,-1,0,1,2,3,4,5,6,7,8,9,10,11,12,13,14,15,16,17,18,19,20,21,22,23,24,25,26,27], "labelExpr": "datum.value % 2 == 0 ? '' + datum.value : ''", "tickSize": {"condition": {"test": "datum.value % 2 == 0", "value": 4}, "value": 2}, "labelPadding": 1, "grid": false, "title": "°C", "titleAngle": 0, "titleX": 4, "titleY": -10, "titleAlign": "left", "titleBaseline": "alphabetic"}},
        "color": {"datum": "°C", "type": "nominal"}
      }
    }
  ],
  "resolve": {"scale": {"y": "independent"}, "axis": {"x": "independent"}}
},
{
  "width": 1136, "height": 410,
  "title": {"text": "Mätning av temperatur (röd) och fukt (blå) vid sidan av täckt häll", "font": "Lato", "fontSize": 20, "fontWeight": "normal", "color": "#1a1a1a", "frame": "group", "anchor": "middle", "baseline": "alphabetic", "offset": -41, "dx": -17},
  "layer": [
    {
      "data": {"name": "bot_rf"},
      "mark": {"type": "line", "strokeWidth": 1.9, "stroke": "#1c1cd6"},
      "encoding": {
        "x": {"field": "day", "type": "quantitative", "scale": {"domain": [-1.65, 154.2], "nice": false, "zero": false},
          "axis": {"orient": "bottom", "title": null, "values": [0,15,30,45.5,61,76.5,92,106.5,121,136.5,152], "labelExpr": "indexof([0,30,61,92,121,152], datum.value) >= 0 ? '00:00:00' : ''", "labelAlign": "left", "labelOffset": 4, "labelPadding": 2, "labelBaseline": "top", "tickSize": {"condition": {"test": "indexof([0,30,61,92,121,152], datum.value) >= 0", "value": 6}, "value": 3}, "grid": true, "gridColor": "#aaa", "gridDash": [3,3], "gridOpacity": {"condition": {"test": "indexof([0,30,61,92,121,152], datum.value) >= 0", "value": 1}, "value": 0}}},
        "y": {"field": "rf", "type": "quantitative", "scale": {"domain": [11.63, 103.82], "nice": false, "zero": false},
          "axis": {"orient": "left", "values": [12.5,15,17.5,20,22.5,25,27.5,30,32.5,35,37.5,40,42.5,45,47.5,50,52.5,55,57.5,60,62.5,65,67.5,70,72.5,75,77.5,80,82.5,85,87.5,90,92.5,95,97.5,100,102.5], "labelExpr": "datum.value % 5 == 0 ? '' + datum.value : ''", "tickSize": {"condition": {"test": "datum.value % 5 == 0", "value": 4}, "value": 2}, "labelPadding": 8, "grid": true, "gridColor": "#999", "gridDash": [2,3], "gridOpacity": {"condition": {"test": "datum.value % 5 == 0", "value": 1}, "value": 0}, "title": "%rF", "titleAngle": 0, "titleX": -27, "titleY": -11, "titleAlign": "left", "titleBaseline": "alphabetic"}}
      }
    },
    {
      "data": {"name": "bot_t"},
      "mark": {"type": "line", "strokeWidth": 1.6, "stroke": "#e3191c"},
      "encoding": {
        "x": {"field": "day", "type": "quantitative", "scale": {"domain": [-1.65, 154.2], "nice": false, "zero": false},
          "axis": {"orient": "bottom", "offset": 24, "title": null, "grid": false, "values": [0,15,30,45.5,61,76.5,92,106.5,121,136.5,152], "labelExpr": "datum.value==0?'1.11.2019':datum.value==30?'1.12.2019':datum.value==61?'1.01.2020':datum.value==92?'1.02.2020':datum.value==121?'1.03.2020':datum.value==152?'1.04.2020':''", "labelAlign": "left", "labelOffset": 0, "labelPadding": 2, "labelBaseline": "top", "tickSize": {"condition": {"test": "indexof([0,30,61,92,121,152], datum.value) >= 0", "value": 5}, "value": 3}}},
        "y": {"field": "temp", "type": "quantitative", "scale": {"domain": [-11.47, 26.09], "nice": false, "zero": false},
          "axis": {"orient": "right", "values": [-11,-10,-9,-8,-7,-6,-5,-4,-3,-2,-1,0,1,2,3,4,5,6,7,8,9,10,11,12,13,14,15,16,17,18,19,20,21,22,23,24,25,26], "labelExpr": "datum.value % 2 == 0 ? '' + datum.value : ''", "tickSize": {"condition": {"test": "datum.value % 2 == 0", "value": 4}, "value": 2}, "labelPadding": 1, "grid": false, "title": "°C", "titleAngle": 0, "titleX": 4, "titleY": -11, "titleAlign": "left", "titleBaseline": "alphabetic"}}
      }
    }
  ],
  "resolve": {"scale": {"y": "independent"}, "axis": {"x": "independent"}}
}
]
}
